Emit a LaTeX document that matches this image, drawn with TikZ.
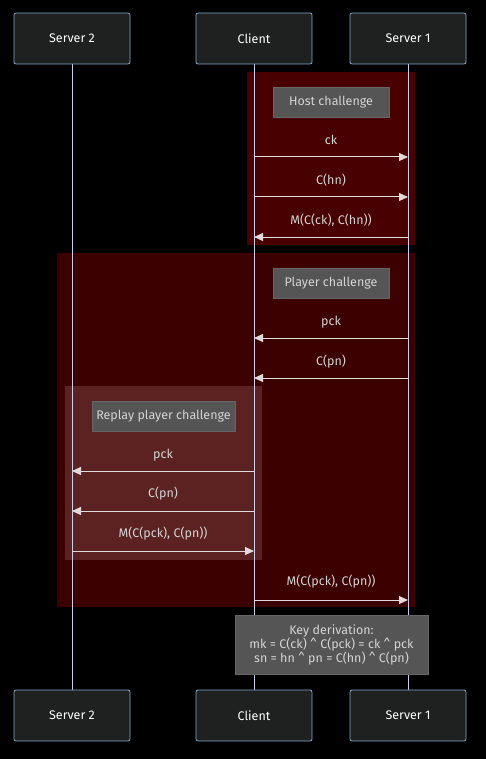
\documentclass[tikz,border=0pt]{standalone}
\usepackage{fontspec}
\setmainfont{Fira Sans}
\usetikzlibrary{arrows.meta}
\definecolor{bg}{HTML}{000000}
\definecolor{actorfill}{HTML}{1F2020}
\definecolor{actorline}{HTML}{81A9CC}
\definecolor{lifeline}{HTML}{C8D0EC}
\definecolor{txt}{HTML}{D4D4D4}
\definecolor{hostfill}{HTML}{480000}
\definecolor{playerfill}{HTML}{3C0000}
\definecolor{replayfill}{HTML}{5C2222}
\definecolor{notefill}{HTML}{555555}
\definecolor{noteline}{HTML}{666666}
\definecolor{msg}{HTML}{E2DADA}
\tikzset{
  actorbox/.style={draw=actorline, fill=actorfill, rounded corners=2pt, minimum width=116pt, minimum height=51pt, line width=0.8pt, text=white, font=\fontsize{12.5}{14}\selectfont},
  lifelinestyle/.style={draw=lifeline, line width=0.9pt},
  labelbox/.style={fill=notefill, draw=noteline, line width=0.6pt, text=txt, minimum height=30pt, inner xsep=4pt, font=\fontsize{12.5}{14}\selectfont},
  msgarrow/.style={draw=msg, line width=1pt, -{Triangle[length=9pt,width=8pt]}},
  msglabel/.style={text=txt, font=\fontsize{12.5}{14}\selectfont},
  notebox/.style={fill=notefill, draw=noteline, line width=0.6pt, text=txt, align=center, font=\fontsize{12.5}{14}\selectfont},
}
\begin{document}
\begin{tikzpicture}[x=1pt,y=-1pt]
\useasboundingbox (0,0) rectangle (486,759);
\fill[bg] (0,0) rectangle (486,759);
% group rectangles
\fill[hostfill] (247,72) rectangle (415,245);
\fill[playerfill] (57,253) rectangle (415,607);
\fill[replayfill] (65,386) rectangle (262,560);
% lifelines
\coordinate (s2t) at (72,64); \coordinate (s2b) at (72,690);
\coordinate (ct) at (254,64); \coordinate (cb) at (254,690);
\coordinate (s1t) at (408,64); \coordinate (s1b) at (408,690);
\draw[lifelinestyle] (s2t) -- (s2b);
\draw[lifelinestyle] (ct) -- (cb);
\draw[lifelinestyle] (s1t) -- (s1b);
% actors
\node[actorbox] (s2top) at (72,38.5) {Server 2};
\node[actorbox] (ctop) at (254,38.5) {Client};
\node[actorbox] (s1top) at (408,38.5) {Server 1};
\node[actorbox] (s2bot) at (72,715.5) {Server 2};
\node[actorbox] (cbot) at (254,715.5) {Client};
\node[actorbox] (s1bot) at (408,715.5) {Server 1};
% group labels
\node[labelbox, minimum width=116pt] (hostlbl) at (331,102) {Host challenge};
\node[labelbox, minimum width=116pt] (playerlbl) at (331,283) {Player challenge};
\node[labelbox, minimum width=143pt] (replaylbl) at (163.5,416.5) {Replay player challenge};
% message anchor points
\coordinate (c1) at (254,157); \coordinate (s1a) at (408,157);
\coordinate (c2) at (254,197); \coordinate (s1b2) at (408,197);
\coordinate (c3) at (254,237); \coordinate (s1c) at (408,237);
\coordinate (c4) at (254,338); \coordinate (s1d) at (408,338);
\coordinate (c5) at (254,378); \coordinate (s1e) at (408,378);
\coordinate (c6) at (254,471); \coordinate (s2a) at (72,471);
\coordinate (c7) at (254,511); \coordinate (s2b2) at (72,511);
\coordinate (c8) at (254,551); \coordinate (s2c) at (72,551);
\coordinate (c9) at (254,600); \coordinate (s1f) at (408,600);
% messages
\draw[msgarrow] (c1) -- (s1a);
\node[msglabel] (m1) at (331,140) {ck};
\draw[msgarrow] (c2) -- (s1b2);
\node[msglabel] (m2) at (331,180) {C(hn)};
\draw[msgarrow] (s1c) -- (c3);
\node[msglabel] (m3) at (331,220) {M(C(ck), C(hn))};
\draw[msgarrow] (s1d) -- (c4);
\node[msglabel] (m4) at (331,322) {pck};
\draw[msgarrow] (s1e) -- (c5);
\node[msglabel] (m5) at (331,362) {C(pn)};
\draw[msgarrow] (c6) -- (s2a);
\node[msglabel] (m6) at (163,455) {pck};
\draw[msgarrow] (c7) -- (s2b2);
\node[msglabel] (m7) at (163,494) {C(pn)};
\draw[msgarrow] (s2c) -- (c8);
\node[msglabel] (m8) at (163,534) {M(C(pck), C(pn))};
\draw[msgarrow] (c9) -- (s1f);
\node[msglabel] (m9) at (331,582) {M(C(pck), C(pn))};
% note
\node[notebox, minimum width=193pt, minimum height=59pt] (note) at (331.5,644.5) {Key derivation:\\mk = C(ck) \^{} C(pck) = ck \^{} pck\\sn = hn \^{} pn = C(hn) \^{} C(pn)};
\end{tikzpicture}
\end{document}
